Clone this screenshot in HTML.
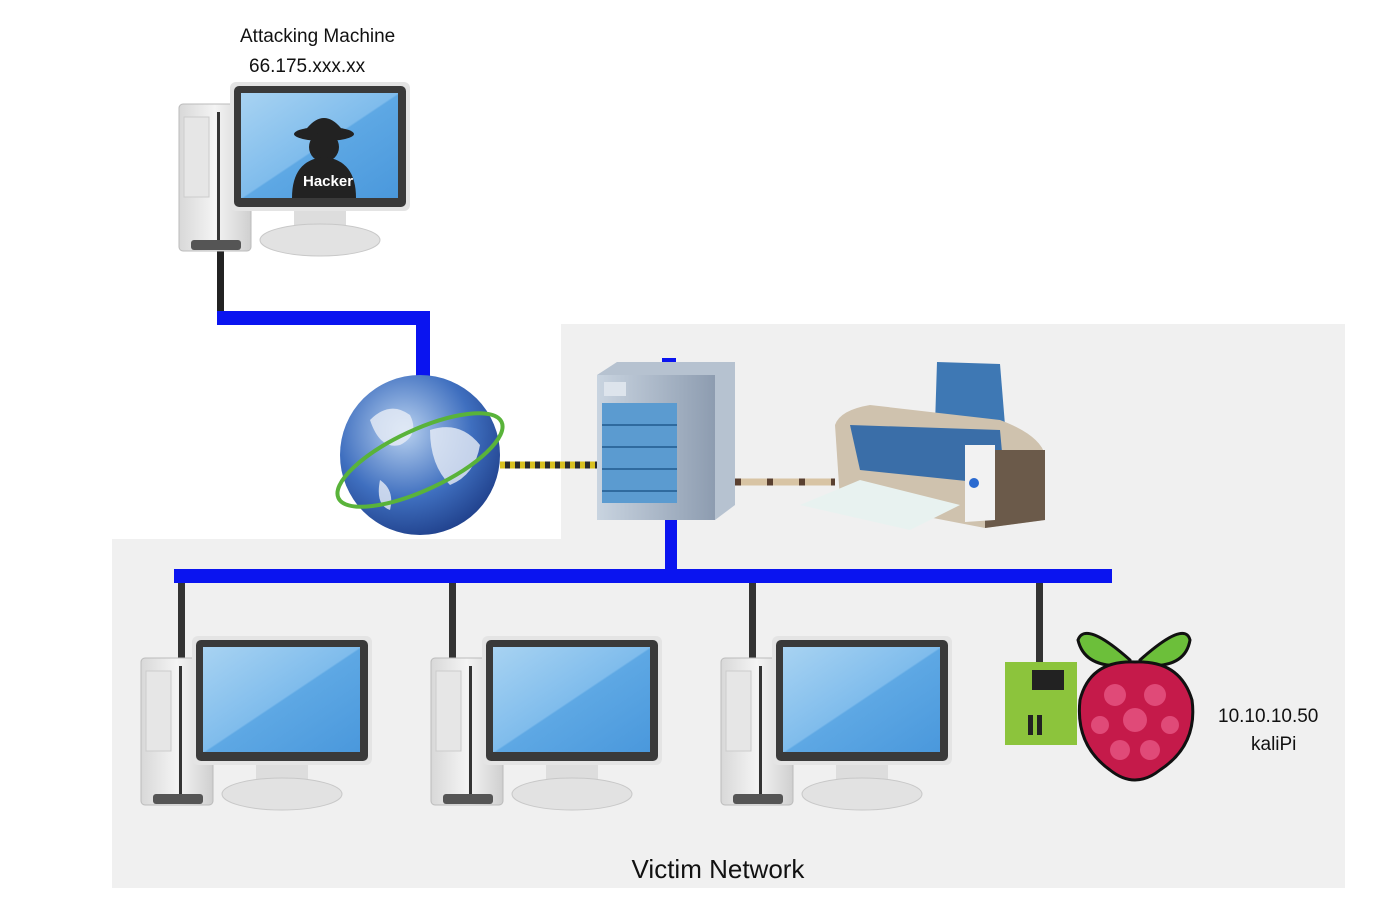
<!DOCTYPE html>
<html><head><meta charset="utf-8"><style>
html,body{margin:0;padding:0;background:#fff}
svg{display:block}
text{font-family:"Liberation Sans",sans-serif;fill:#111}
</style></head><body>
<svg width="1400" height="912" viewBox="0 0 1400 912" xmlns="http://www.w3.org/2000/svg">
<defs>
<linearGradient id="scr" x1="0" y1="0" x2="1" y2="1">
<stop offset="0" stop-color="#a8d3f2"/><stop offset="0.5" stop-color="#7fbcec"/><stop offset="0.51" stop-color="#5ea8e4"/><stop offset="1" stop-color="#4a98dc"/>
</linearGradient>
<linearGradient id="tow" x1="0" y1="0" x2="1" y2="0">
<stop offset="0" stop-color="#d8d8d8"/><stop offset="0.5" stop-color="#f4f4f4"/><stop offset="1" stop-color="#cfcfcf"/>
</linearGradient>
<radialGradient id="glb" cx="0.4" cy="0.35" r="0.7">
<stop offset="0" stop-color="#b9d2f0"/><stop offset="0.6" stop-color="#3f6fbf"/><stop offset="1" stop-color="#1f3f8a"/>
</radialGradient>
<linearGradient id="srv" x1="0" y1="0" x2="1" y2="0">
<stop offset="0" stop-color="#c9d4e0"/><stop offset="1" stop-color="#8d9cb0"/>
</linearGradient>
<g id="pc">
<rect x="0" y="22" width="72" height="147" rx="4" fill="url(#tow)" stroke="#bbb"/>
<rect x="5" y="35" width="25" height="80" fill="#e6e6e6" stroke="#ccc"/>
<rect x="38" y="30" width="3" height="130" fill="#333"/>
<rect x="12" y="158" width="50" height="10" rx="3" fill="#555"/>
<rect x="51" y="0" width="180" height="129" rx="6" fill="#e4e4e4"/>
<rect x="55" y="4" width="172" height="121" rx="5" fill="#3a3a3a"/>
<rect x="62" y="11" width="157" height="105" fill="url(#scr)"/>
<rect x="115" y="129" width="52" height="16" fill="#ddd"/>
<ellipse cx="141" cy="158" rx="60" ry="16" fill="#e2e2e2" stroke="#c8c8c8"/>
</g>
</defs>
<polygon points="561,324 1345,324 1345,888 112,888 112,539 561,539" fill="#f0f0f0"/>

<rect x="217" y="245" width="7" height="66" fill="#222"/>
<polyline points="217,318 423,318 423,378" fill="none" stroke="#0a14f0" stroke-width="14"/>

<use href="#pc" x="179" y="82"/>
<g fill="#222">
<ellipse cx="324" cy="134" rx="30" ry="7"/>
<path d="M304 132 Q324 104 344 132 Z"/>
<circle cx="324" cy="147" r="15"/>
<path d="M292 198 Q292 160 324 157 Q356 160 356 198 Z"/>
</g>
<text x="303" y="186" font-size="15" font-weight="bold" style="fill:#fff">Hacker</text>
<text x="240" y="42" font-size="19">Attacking Machine</text>
<text x="249" y="72" font-size="19">66.175.xxx.xx</text>

<line x1="500" y1="465" x2="600" y2="465" stroke="#2a2a2a" stroke-width="7"/>
<line x1="500" y1="465" x2="600" y2="465" stroke="#d8c020" stroke-width="7" stroke-dasharray="5 5"/>
<circle cx="420" cy="455" r="80" fill="url(#glb)"/>
<path d="M370 420 q20 -20 40 -5 q10 20 -10 30 q-20 5 -30 -25 Z M430 430 q30 -10 50 15 q-5 30 -30 40 q-20 -20 -20 -55 Z M380 480 q15 10 10 30 q-15 -5 -10 -30Z" fill="#e8eef6" opacity="0.8"/>
<ellipse cx="420" cy="460" rx="90" ry="30" transform="rotate(-25 420 460)" fill="none" stroke="#59b33a" stroke-width="4"/>

<rect x="662" y="358" width="14" height="6" fill="#0a14f0"/>
<rect x="665" y="518" width="12" height="55" fill="#0a14f0"/>
<polygon points="597,375 617,362 735,362 735,505 715,520 597,520" fill="#b6c2d0"/>
<rect x="597" y="375" width="118" height="145" fill="url(#srv)"/>
<rect x="602" y="403" width="75" height="100" fill="#5b9bd0"/>
<g stroke="#2f6a9e" stroke-width="2"><line x1="602" y1="425" x2="677" y2="425"/><line x1="602" y1="447" x2="677" y2="447"/><line x1="602" y1="469" x2="677" y2="469"/><line x1="602" y1="491" x2="677" y2="491"/></g>
<rect x="604" y="382" width="22" height="14" fill="#dde4ec"/>

<line x1="735" y1="482" x2="835" y2="482" stroke="#d8c4a4" stroke-width="7"/>
<line x1="735" y1="482" x2="835" y2="482" stroke="#5a4030" stroke-width="7" stroke-dasharray="6 26"/>
<path d="M937 362 L1000 364 L1005 425 L935 425 Z" fill="#3e78b4"/>
<path d="M835 425 Q840 410 870 405 L1000 420 Q1040 435 1045 455 L1045 520 L985 528 L840 500 Z" fill="#cfc2ae"/>
<path d="M850 425 L1000 430 L1005 485 L860 470 Z" fill="#3a6ea8"/>
<path d="M985 450 L1045 450 L1045 520 L985 528 Z" fill="#6b5a4a"/>
<path d="M965 445 L995 445 L995 520 L965 522 Z" fill="#f2f2f2"/>
<circle cx="974" cy="483" r="5" fill="#2a6ad0"/>
<path d="M800 505 L860 480 L960 505 L910 530 Z" fill="#e8f2f0"/>

<rect x="174" y="569" width="938" height="14" fill="#0a14f0"/>
<g fill="#333">
<rect x="178" y="583" width="7" height="78"/>
<rect x="449" y="583" width="7" height="78"/>
<rect x="749" y="583" width="7" height="78"/>
<rect x="1036" y="583" width="7" height="80"/>
</g>

<use href="#pc" x="141" y="636"/>
<use href="#pc" x="431" y="636"/>
<use href="#pc" x="721" y="636"/>

<rect x="1005" y="662" width="72" height="83" fill="#8cc43c"/>
<rect x="1032" y="670" width="32" height="20" fill="#222"/>
<rect x="1028" y="715" width="5" height="20" fill="#222"/><rect x="1037" y="715" width="5" height="20" fill="#222"/>
<path d="M1130 660 Q1085 620 1078 640 Q1085 670 1130 665 Z" fill="#6cbf3a" stroke="#111" stroke-width="3"/>
<path d="M1140 660 Q1185 620 1190 640 Q1185 670 1140 665 Z" fill="#6cbf3a" stroke="#111" stroke-width="3"/>
<path d="M1135 662 Q1090 660 1080 700 Q1075 745 1110 770 Q1135 790 1160 770 Q1198 745 1192 700 Q1180 660 1135 662 Z" fill="#c51a4a" stroke="#111" stroke-width="3"/>
<g fill="#e04a78"><circle cx="1115" cy="695" r="11"/><circle cx="1155" cy="695" r="11"/><circle cx="1135" cy="720" r="12"/><circle cx="1100" cy="725" r="9"/><circle cx="1170" cy="725" r="9"/><circle cx="1120" cy="750" r="10"/><circle cx="1150" cy="750" r="10"/></g>
<text x="1218" y="722" font-size="19">10.10.10.50</text>
<text x="1251" y="750" font-size="19">kaliPi</text>

<text x="718" y="878" font-size="26" text-anchor="middle">Victim Network</text>
</svg>
</body></html>
